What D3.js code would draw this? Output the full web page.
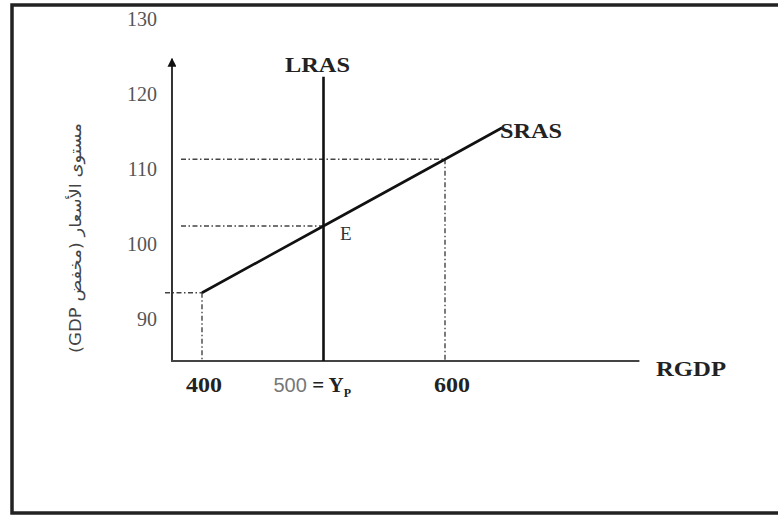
<!DOCTYPE html>
<html>
<head>
<meta charset="utf-8">
<script src="https://cdn.jsdelivr.net/npm/d3@7"></script>
<style>
  body { margin: 0; background: #fff; }
  svg { display: block; }
</style>
</head>
<body>
<svg width="778" height="516"></svg>
<script>
// values
const yTicks = [90, 100, 110, 120, 130];
const xTicks = [400, 500, 600];
const srasGDP = [400, 500, 600, 647];
const srasPrice = [93.5, 102.4, 111.3, 115.5];
const lrasGDP = 500;
const lrasTop = 122.3;
const guideGDP = [400, 500, 600];        // dashed drop lines
const guidePrice = [93.5, 102.4, 111.3];
const axisMin = {gdp: 375.3, price: 84.4};
const axisMax = {gdp: 760, price: 124.7};

const svg = d3.select('svg');

const x = d3.scaleLinear().domain([400, 600]).range([202, 445]);
const y = d3.scaleLinear().domain([90, 120]).range([319, 94]);

// frame (right edge is cut off in the picture)
svg.append('rect')
  .attr('x', 12).attr('y', 5)
  .attr('width', 820).attr('height', 508)
  .attr('fill', 'none').attr('stroke', '#222').attr('stroke-width', 3.5);

svg.append('defs').append('marker')
  .attr('id', 'arrow')
  .attr('viewBox', '0 0 10 10')
  .attr('refX', 9).attr('refY', 5)
  .attr('markerWidth', 4.5).attr('markerHeight', 4.5)
  .attr('orient', 'auto')
  .append('path').attr('d', 'M0,0 L10,5 L0,10 Z').attr('fill', '#111');

// dashed guides
const dash = '5,2.5,1.5,2.5';
const guides = svg.append('g')
  .attr('stroke', '#444').attr('stroke-width', 1.4)
  .attr('stroke-dasharray', dash).attr('fill', 'none');

guidePrice.forEach((p, i) => {
  const x0 = i === 0 ? x(axisMin.gdp) - 7 : x(axisMin.gdp) + 9;
  guides.append('line')
    .attr('x1', x0).attr('x2', x(guideGDP[i]))
    .attr('y1', y(p)).attr('y2', y(p));
});
[0, 2].forEach(i => {
  guides.append('line')
    .attr('x1', x(guideGDP[i])).attr('x2', x(guideGDP[i]))
    .attr('y1', y(guidePrice[i])).attr('y2', y(axisMin.price));
});

// axes
svg.append('line')
  .attr('x1', x(axisMin.gdp)).attr('x2', x(axisMin.gdp))
  .attr('y1', y(axisMin.price)).attr('y2', y(axisMax.price))
  .attr('stroke', '#333').attr('stroke-width', 2)
  .attr('marker-end', 'url(#arrow)');
svg.append('line')
  .attr('x1', x(axisMin.gdp) - 1).attr('x2', x(axisMax.gdp))
  .attr('y1', y(axisMin.price)).attr('y2', y(axisMin.price))
  .attr('stroke', '#444').attr('stroke-width', 2);

// y tick labels
const yAxis = svg.append('g')
  .attr('transform', `translate(${x(axisMin.gdp)},0)`)
  .call(d3.axisLeft(y).tickValues(yTicks).tickSize(0).tickPadding(15));
yAxis.select('.domain').remove();
yAxis.selectAll('text')
  .attr('font-family', 'Liberation Serif')
  .attr('font-size', 20)
  .attr('fill', '#555');

// x tick labels
const xLab = svg.append('g')
  .attr('font-family', 'Liberation Serif')
  .attr('font-size', 21)
  .attr('font-weight', 'bold')
  .attr('fill', '#222');
xLab.append('text').attr('x', x(xTicks[0]) + 2).attr('y', 392)
  .attr('text-anchor', 'middle')
  .attr('textLength', 36).attr('lengthAdjust', 'spacingAndGlyphs')
  .text(xTicks[0]);
xLab.append('text').attr('x', x(xTicks[2]) + 7).attr('y', 392)
  .attr('text-anchor', 'middle')
  .attr('textLength', 36).attr('lengthAdjust', 'spacingAndGlyphs')
  .text(xTicks[2]);
const yp = xLab.append('text').attr('x', x(xTicks[1]) - 50).attr('y', 392);
yp.append('tspan').attr('font-weight', 'normal').attr('fill', '#777')
  .attr('font-family', 'Liberation Sans Narrow, Liberation Sans')
  .attr('font-size', 20).text(xTicks[1]);
yp.append('tspan').text(' = Y');
yp.append('tspan').attr('font-size', 12).attr('dy', 5).text('P');

// LRAS
svg.append('line')
  .attr('x1', x(lrasGDP)).attr('x2', x(lrasGDP))
  .attr('y1', y(axisMin.price)).attr('y2', y(lrasTop))
  .attr('stroke', '#111').attr('stroke-width', 2.6);

// SRAS
svg.append('path')
  .datum(srasGDP.map((g, i) => [g, srasPrice[i]]))
  .attr('d', d3.line().x(d => x(d[0])).y(d => y(d[1])))
  .attr('fill', 'none').attr('stroke', '#111').attr('stroke-width', 2.6);

// curve labels
const curveLabels = [
  {t: 'LRAS', x: 285, y: 72, w: 65},
  {t: 'SRAS', x: 500, y: 138, w: 62},
  {t: 'RGDP', x: 656, y: 376, w: 70}
];
svg.append('g')
  .attr('font-family', 'Liberation Serif')
  .attr('font-weight', 'bold')
  .attr('font-size', 21)
  .attr('fill', '#222')
  .selectAll('text')
  .data(curveLabels)
  .join('text')
  .attr('x', d => d.x).attr('y', d => d.y)
  .attr('textLength', d => d.w)
  .attr('lengthAdjust', 'spacingAndGlyphs')
  .text(d => d.t);
svg.append('text').attr('x', 340).attr('y', 240)
  .attr('font-family', 'Liberation Serif').attr('font-size', 19)
  .attr('fill', '#333').text('E');

// y title (Arabic)
svg.append('text')
  .attr('transform', 'translate(81,238) rotate(-90)')
  .attr('direction', 'rtl')
  .attr('text-anchor', 'middle')
  .attr('font-family', 'DejaVu Sans')
  .attr('font-size', 16)
  .attr('fill', '#444')
  .attr('textLength', 230).attr('lengthAdjust', 'spacingAndGlyphs')
  .text('مستوى الأسعار (مخفض GDP)');
</script>
</body>
</html>
